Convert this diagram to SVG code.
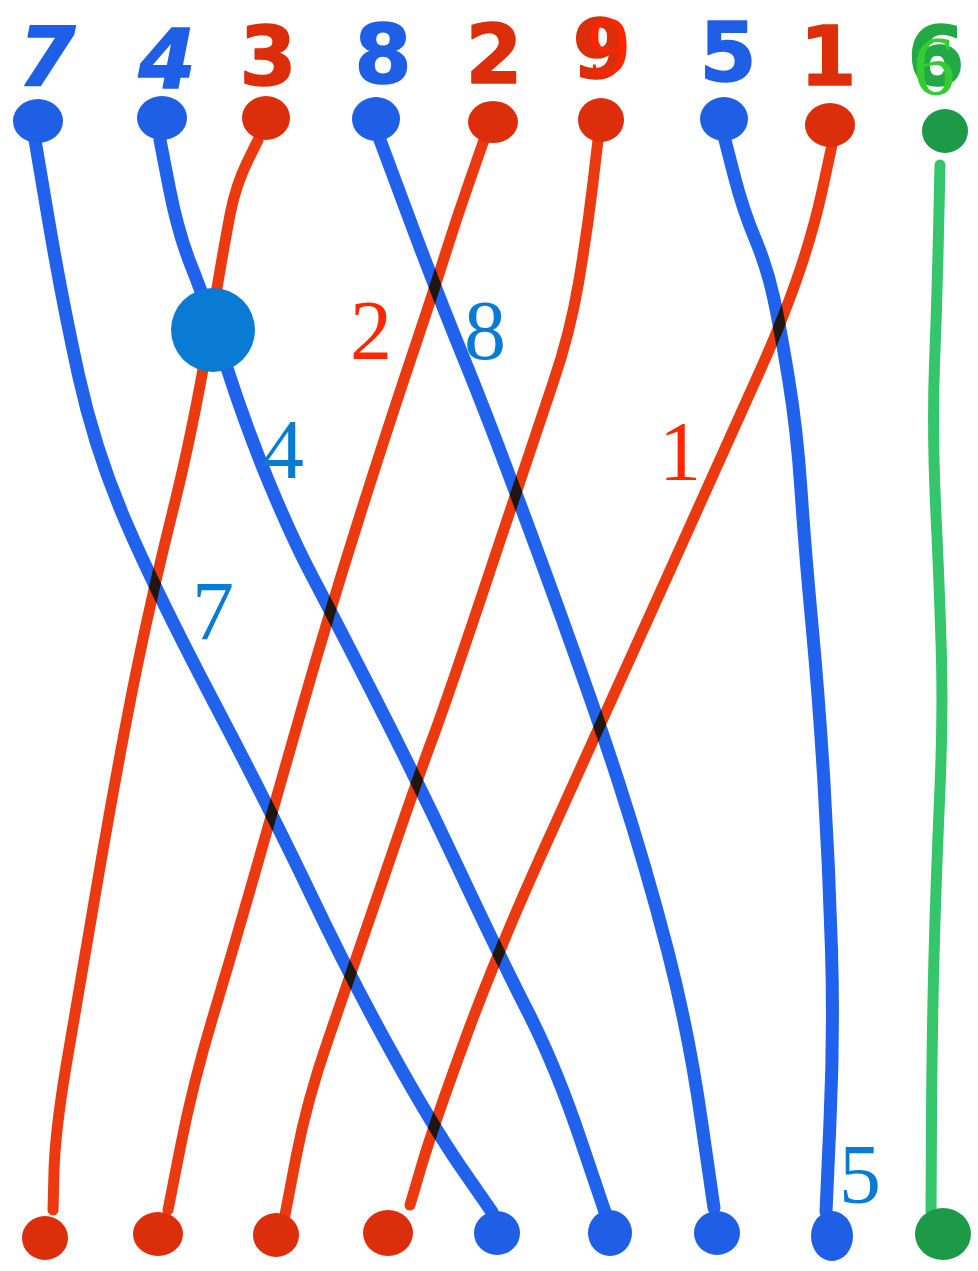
<svg xmlns="http://www.w3.org/2000/svg" width="978" height="1271" viewBox="0 0 978 1271">
<style>
.hw{font-family:"DejaVu Sans","Liberation Sans",sans-serif;font-weight:bold;font-size:82px;text-anchor:middle;stroke-width:1.5;stroke-linejoin:round}
.hwb{fill:#1f5fe6;stroke:#1f5fe6}
.hwr{fill:#dc2e0a;stroke:#dc2e0a}
.hwg{fill:#22a844;stroke:#22a844}
.wire{fill:none;stroke-linecap:round;stroke-linejoin:round;mix-blend-mode:multiply}
.wb{stroke:#2162ec;stroke-width:13}
.wr{stroke:#ec3a10;stroke-width:11}
.wg{stroke:#35c56a;stroke-width:11}
.db{fill:#1f5fe6}
.dr{fill:#dc2e0a}
.dg{fill:#1c9a48}
.t{font-family:"Liberation Serif","Times New Roman",serif;font-size:84px;text-anchor:middle}
.tb{fill:#0a7bd4}
.tr{fill:#ff2600}
.tg{fill:#33cc33}
</style>
<rect width="978" height="1271" fill="#ffffff"/>

<g id="connectors">
<path class="wire wb" d="M35,140 L48.5,220 Q62,300 78.5,375 Q95,450 125,520 Q155,590 213.5,701.5 Q272,813 311,895 Q350,977 391.5,1052 Q433,1127 462.5,1169.5 L492,1212"/>
<path class="wire wb" d="M160,140 L169,186.5 Q178,233 191.5,266.5 Q205,300 226,365 Q247,430 270,485 Q293,540 311.5,575 Q330,610 373.5,695 Q417,780 458,867.5 Q499,955 527.5,1011 Q556,1067 580.5,1139.5 L605,1212"/>
<path class="wire wr" d="M258,140 L247,162.5 Q236,185 230.5,212.5 Q225,240 209,335 Q193,430 173,510 Q153,590 137.5,665 Q122,740 99.5,870 Q77,1000 66,1066.5 Q55,1133 54,1171.5 L53,1210"/>
<path class="wire wb" d="M380,140 L408.5,216.5 Q437,293 465,361.5 Q493,430 542.5,565 Q592,700 619,783.5 Q646,867 667.5,950 Q689,1033 701.5,1121.5 L714,1208"/>
<path class="wire wr" d="M484,140 L470.5,178.5 Q457,217 445,255 Q433,293 410,361.5 Q387,430 358.5,520 Q330,610 301,711.5 Q272,813 252.5,881.5 Q233,950 213,1016.5 Q193,1083 180.5,1146.5 L168,1210"/>
<path class="wire wr" d="M598,140 L592.5,186.5 Q587,233 578.5,283 Q570,333 553.5,381.5 Q537,430 492,565 Q447,700 432,740 Q417,780 383.5,878.5 Q350,977 328.5,1038.5 Q307,1100 296,1157.5 L285,1215"/>
<path class="wire wb" d="M725,140 L734,175 Q743,210 755,238.5 Q767,267 773.5,297 Q780,327 788.5,378.5 Q797,430 801,490 Q805,550 812,625 Q819,700 824,783.5 Q829,867 831.5,950 Q834,1033 830,1121.5 L826,1212"/>
<path class="wire wr" d="M832,145 L822.5,189 Q813,233 796.5,280 Q780,327 756.5,378.5 Q733,430 672.5,565 Q612,700 555.5,823.5 Q499,947 466,1037 Q433,1127 421.5,1166 L410,1205"/>
<path class="wire wg" d="M940,165 L938.5,232.5 Q937,300 934.5,365 Q932,430 936,515 Q940,600 941.5,660 Q943,720 939.5,800 Q936,880 934,956.5 Q932,1033 931.5,1121.5 L931,1212"/>
</g>

<g id="top-7"><text class="hw hwb" x="47" y="86" font-style="italic">7</text><ellipse class="db" cx="38" cy="121" rx="25" ry="22"/></g>
<g id="top-4"><text class="hw hwb" x="167" y="88" font-style="italic">4</text><ellipse class="db" cx="162" cy="118" rx="25" ry="22"/></g>
<g id="top-3"><text class="hw hwr" x="268" y="85">3</text><ellipse class="dr" cx="266" cy="118" rx="24" ry="22"/></g>
<g id="top-8"><text class="hw hwb" x="383" y="83">8</text><ellipse class="db" cx="376" cy="119" rx="24" ry="22"/></g>
<g id="top-2"><text class="hw hwr" x="494" y="83">2</text><ellipse class="dr" cx="493" cy="122" rx="25" ry="21"/></g>
<g id="top-9"><text class="hw hwr" x="601" y="78" font-size="66">9</text><text class="t tr" x="609" y="75">9</text><ellipse class="dr" cx="601" cy="120" rx="23" ry="22"/></g>
<g id="top-5"><text class="hw hwb" x="728" y="81">5</text><ellipse class="db" cx="724" cy="119" rx="24" ry="22"/></g>
<g id="top-1"><text class="hw hwr" x="828" y="85">1</text><ellipse class="dr" cx="830" cy="125" rx="25" ry="22"/></g>
<g id="top-6"><text class="hw hwg" x="936" y="85">6</text><text class="t tg" x="934" y="95">6</text><ellipse class="dg" cx="945" cy="131" rx="23" ry="22"/></g>

<g id="bottom-1"><ellipse class="dr" cx="45" cy="1238" rx="23" ry="22"/></g>
<g id="bottom-2"><ellipse class="dr" cx="158" cy="1234" rx="25" ry="22"/></g>
<g id="bottom-3"><ellipse class="dr" cx="276" cy="1235" rx="23" ry="22"/></g>
<g id="bottom-4"><ellipse class="dr" cx="388" cy="1233" rx="25" ry="23"/></g>
<g id="bottom-5"><ellipse class="db" cx="497" cy="1233" rx="23" ry="22"/></g>
<g id="bottom-6"><ellipse class="db" cx="610" cy="1233" rx="22" ry="23"/></g>
<g id="bottom-7"><ellipse class="db" cx="717" cy="1233" rx="23" ry="22"/></g>
<g id="bottom-8"><ellipse class="db" cx="832" cy="1236" rx="21" ry="25"/></g>
<g id="bottom-9"><ellipse class="dg" cx="943" cy="1234" rx="28" ry="26"/></g>

<g id="marker"><circle cx="213" cy="330" r="42" fill="#0a7bd4"/></g>

<g id="wire-labels">
<text class="t tr" x="371" y="359">2</text>
<text class="t tb" x="485" y="359">8</text>
<text class="t tb" x="283" y="478">4</text>
<text class="t tr" x="680" y="480">1</text>
<text class="t tb" x="213" y="640">7</text>
<text class="t tb" x="860" y="1203">5</text>
</g>
</svg>
